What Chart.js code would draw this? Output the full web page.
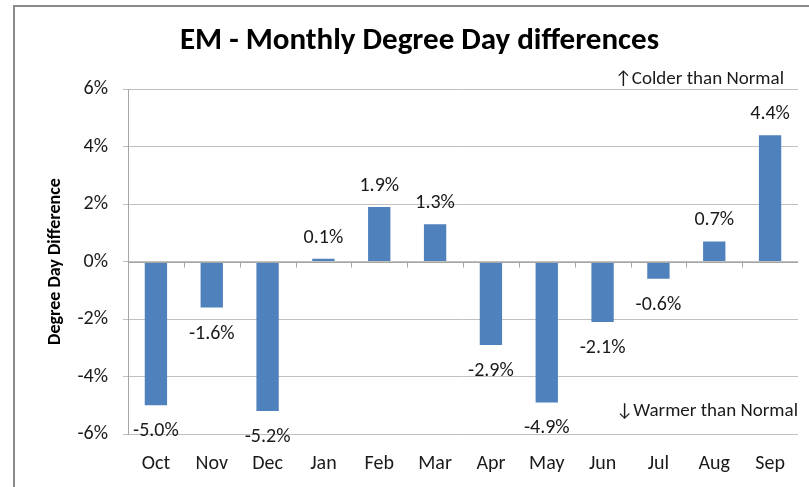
<!DOCTYPE html>
<html>
<head>
<meta charset="utf-8">
<script src="https://cdn.jsdelivr.net/npm/chart.js@4/dist/chart.umd.min.js"></script>
<style>
  html, body { margin: 0; padding: 0; background: #ffffff; }
  #wrap { position: relative; width: 809px; height: 487px; overflow: hidden; }
  #frame { position: absolute; left: 13px; top: 5px; width: 820px; height: 500px;
           border-left: 2px solid #8a8a8a; border-top: 2px solid #8a8a8a; background: #fff; }
  canvas { position: absolute; left: 0; top: 0; }
</style>
</head>
<body>
<div id="wrap">
  <div id="frame"></div>
  <canvas id="c" width="809" height="487"></canvas>
</div>
<script>
const months = ['Oct','Nov','Dec','Jan','Feb','Mar','Apr','May','Jun','Jul','Aug','Sep'];
const diffs = [-5.0, -1.6, -5.2, 0.1, 1.9, 1.3, -2.9, -4.9, -2.1, -0.6, 0.7, 4.4];
const yTicks = [-6, -4, -2, 0, 2, 4, 6];
const titleText = 'EM - Monthly Degree Day differences';
const yTitle = 'Degree Day Difference';
const noteTop = '\u2191Colder than Normal';
const noteBottom = '\u2193Warmer than Normal';

const FONT = "Carlito, Lato, 'Open Sans', sans-serif";

const extras = {
  id: 'extras',
  afterDatasetsDraw(chart) {
    const ctx = chart.ctx;
    const x = chart.scales.x, y = chart.scales.y;
    const area = chart.chartArea;
    const y0 = y.getPixelForValue(0);
    ctx.save();
    // zero axis line + tick marks between categories
    ctx.strokeStyle = '#a6a6a6';
    ctx.lineWidth = 1;
    ctx.beginPath();
    ctx.moveTo(area.left, Math.round(y0) + 0.5);
    ctx.lineTo(area.right, Math.round(y0) + 0.5);
    const half = (x.getPixelForValue(1) - x.getPixelForValue(0)) / 2;
    for (let i = 1; i < months.length; i++) {
      const px = Math.round(x.getPixelForValue(i) - half) + 0.5;
      ctx.moveTo(px, y0);
      ctx.lineTo(px, y0 + 6);
    }
    ctx.stroke();
    // data labels
    ctx.fillStyle = '#1a1a1a';
    ctx.font = '20px ' + FONT;
    ctx.textAlign = 'center';
    ctx.textBaseline = 'middle';
    const meta = chart.getDatasetMeta(0);
    meta.data.forEach((el, i) => {
      const v = diffs[i];
      const ty = v >= 0 ? el.y - 21 : el.y + 26;
      ctx.fillText(v.toFixed(1) + '%', el.x, ty);
    });
    // notes
    ctx.font = '19px ' + FONT;
    ctx.textAlign = 'right';
    ctx.fillText(noteTop, area.right - 14, area.top - 10);
    ctx.fillText(noteBottom, area.right, y.getPixelForValue(-5.2));
    ctx.restore();
  }
};

new Chart(document.getElementById('c'), {
  type: 'bar',
  data: {
    labels: months,
    datasets: [{
      data: diffs,
      backgroundColor: '#4f81bd',
      borderWidth: 0,
      barPercentage: 0.4,
      categoryPercentage: 1.0
    }]
  },
  options: {
    responsive: false,
    animation: false,
    events: [],
    layout: { padding: { left: 41, right: 11, top: 0, bottom: 0 } },
    plugins: {
      legend: { display: false },
      tooltip: { enabled: false },
      title: {
        display: true,
        text: titleText,
        color: '#000',
        font: { family: FONT, size: 31, weight: 'bold' },
        padding: { top: 23, bottom: 29 }
      }
    },
    scales: {
      x: {
        grid: { display: false, drawTicks: false },
        border: { display: false },
        ticks: { color: '#1a1a1a', font: { family: FONT, size: 20 }, padding: 18, maxRotation: 0 },
        afterFit(s) { s.height = 53; }
      },
      y: {
        min: -6, max: 6,
        afterBuildTicks(s) { s.ticks = yTicks.map(v => ({ value: v })); },
        grid: { color: '#c0c0c0', tickLength: 5, drawTicks: true },
        border: { display: true, color: '#a6a6a6' },
        ticks: { color: '#1a1a1a', font: { family: FONT, size: 20 }, padding: 15,
                 callback: v => v + '%' },
        title: { display: true, text: yTitle, color: '#000',
                 font: { family: FONT, size: 18, weight: 'bold' },
                 padding: { top: 4, bottom: 0 } },
        afterFit(s) { s.width = 87; }
      }
    }
  },
  plugins: [extras]
});
</script>
</body>
</html>
